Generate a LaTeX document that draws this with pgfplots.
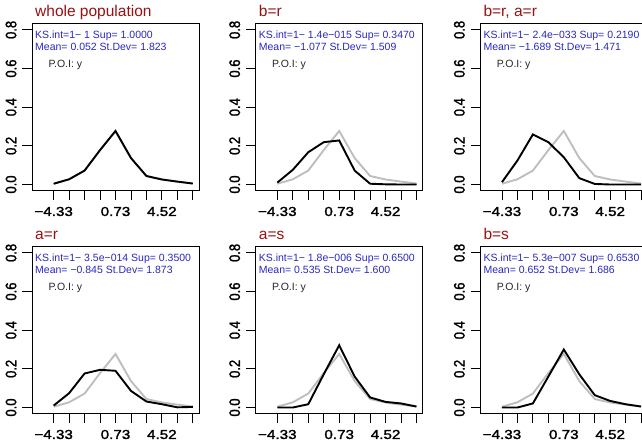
\documentclass[border=0pt]{standalone}
\usepackage{fontspec}
\setmainfont{Liberation Sans}
\newfontfamily\tickfont[FakeBold=1.6]{Liberation Sans}
\usepackage{pgfplots}
\pgfplotsset{compat=1.18}
\definecolor{ttlred}{RGB}{150,18,18}
\definecolor{txtblue}{RGB}{40,40,190}
\definecolor{refgray}{RGB}{190,190,190}
\pgfplotsset{panel/.style={
  scale only axis, width=167pt, height=167pt, anchor=south west,
  xmin=-0.4, xmax=10.4, ymin=-0.032, ymax=0.832,
  xtick={1,2,3,4,5,6,7,8,9,10}, xticklabels={−4.33,,,,0.73,,,4.52,,},
  ytick={0,0.2,0.4,0.6,0.8}, yticklabels={0.0,0.2,0.4,0.6,0.8},
  tick align=outside, tick pos=left, major tick length=9.5pt,
  major tick style={black, line width=0.8pt},
  axis line style={line width=0.9pt},
  /pgf/number format/assume math mode=true,
  ticklabel style={font=\fontsize{13}{13}\selectfont\tickfont},
  xticklabel style={xscale=1.17, anchor=north, inner ysep=6.5pt, inner xsep=0pt},
  yticklabel style={xscale=1.17, rotate=90, anchor=south, inner ysep=5pt, inner xsep=0pt},
  clip=false,
}}
\tikzset{
  ttl/.style={anchor=base west, inner sep=0pt, text=ttlred, font=\fontsize{15.5}{15.5}\selectfont},
  info/.style={anchor=base west, inner sep=0pt, text=txtblue, font=\fontsize{10.5}{10.5}\selectfont},
  poi/.style={anchor=base west, inner sep=0pt, text=black!85, font=\fontsize{10.5}{10.5}\selectfont},
  gline/.style={refgray, line width=1.9pt},
  bline/.style={black, line width=1.9pt},
}
\begin{document}
\begin{tikzpicture}
\useasboundingbox (0,0) rectangle (642pt,446pt);
% ---------- row 1 ----------
\begin{axis}[panel, name=a1, at={(32pt,255.3pt)}]
\addplot[gline] coordinates {(1,0.004) (2,0.027) (3,0.072) (4,0.178) (5,0.277) (6,0.137) (7,0.044) (8,0.026) (9,0.015) (10,0.005)};
\addplot[bline] coordinates {(1,0.004) (2,0.027) (3,0.072) (4,0.178) (5,0.277) (6,0.137) (7,0.044) (8,0.026) (9,0.015) (10,0.005)};
\end{axis}
\begin{axis}[panel, name=a2, at={(255.7pt,255.3pt)}]
\addplot[gline] coordinates {(1,0.004) (2,0.027) (3,0.072) (4,0.178) (5,0.277) (6,0.137) (7,0.044) (8,0.026) (9,0.015) (10,0.005)};
\addplot[bline] coordinates {(1,0.010) (2,0.076) (3,0.167) (4,0.219) (5,0.228) (6,0.072) (7,0.004) (8,0.001) (9,0.000) (10,0.000)};
\end{axis}
\begin{axis}[panel, name=a3, at={(480.3pt,255.3pt)}]
\addplot[gline] coordinates {(1,0.004) (2,0.027) (3,0.072) (4,0.178) (5,0.277) (6,0.137) (7,0.044) (8,0.026) (9,0.015) (10,0.005)};
\addplot[bline] coordinates {(1,0.012) (2,0.124) (3,0.259) (4,0.219) (5,0.141) (6,0.033) (7,0.003) (8,0.000) (9,0.000) (10,0.000)};
\end{axis}
% ---------- row 2 ----------
\begin{axis}[panel, name=a4, at={(32pt,32.3pt)}]
\addplot[gline] coordinates {(1,0.004) (2,0.027) (3,0.072) (4,0.178) (5,0.277) (6,0.137) (7,0.044) (8,0.026) (9,0.015) (10,0.005)};
\addplot[bline] coordinates {(1,0.010) (2,0.074) (3,0.176) (4,0.195) (5,0.190) (6,0.086) (7,0.031) (8,0.017) (9,0.001) (10,0.003)};
\end{axis}
\begin{axis}[panel, name=a5, at={(255.7pt,32.3pt)}]
\addplot[gline] coordinates {(1,0.004) (2,0.027) (3,0.072) (4,0.178) (5,0.277) (6,0.137) (7,0.044) (8,0.026) (9,0.015) (10,0.005)};
\addplot[bline] coordinates {(1,0.000) (2,0.000) (3,0.017) (4,0.172) (5,0.322) (6,0.160) (7,0.052) (8,0.029) (9,0.021) (10,0.005)};
\end{axis}
\begin{axis}[panel, name=a6, at={(480.3pt,32.3pt)}]
\addplot[gline] coordinates {(1,0.004) (2,0.027) (3,0.072) (4,0.178) (5,0.277) (6,0.137) (7,0.044) (8,0.026) (9,0.015) (10,0.005)};
\addplot[bline] coordinates {(1,0.000) (2,0.000) (3,0.021) (4,0.160) (5,0.300) (6,0.172) (7,0.064) (8,0.034) (9,0.017) (10,0.005)};
\end{axis}
% ---------- texts ----------
\foreach \a/\t/\k/\m in {
  a1/{whole population}/{KS.int=1− 1 Sup= 1.0000}/{Mean= 0.052 St.Dev= 1.823},
  a2/{b=r}/{KS.int=1− 1.4e−015 Sup= 0.3470}/{Mean= −1.077 St.Dev= 1.509},
  a3/{b=r, a=r}/{KS.int=1− 2.4e−033 Sup= 0.2190}/{Mean= −1.689 St.Dev= 1.471},
  a4/{a=r}/{KS.int=1− 3.5e−014 Sup= 0.3500}/{Mean= −0.845 St.Dev= 1.873},
  a5/{a=s}/{KS.int=1− 1.8e−006 Sup= 0.6500}/{Mean= 0.535 St.Dev= 1.600},
  a6/{b=s}/{KS.int=1− 5.3e−007 Sup= 0.6530}/{Mean= 0.652 St.Dev= 1.686}}{
  \node[ttl] at ([shift={(3pt,7.5pt)}]\a.north west) {\t};
  \node[info] at ([shift={(3pt,-15pt)}]\a.north west) {\k};
  \node[info] at ([shift={(3pt,-27pt)}]\a.north west) {\m};
  \node[poi] at ([shift={(16.3pt,-44.3pt)}]\a.north west) {P.O.I: y};
}
\end{tikzpicture}
\end{document}
